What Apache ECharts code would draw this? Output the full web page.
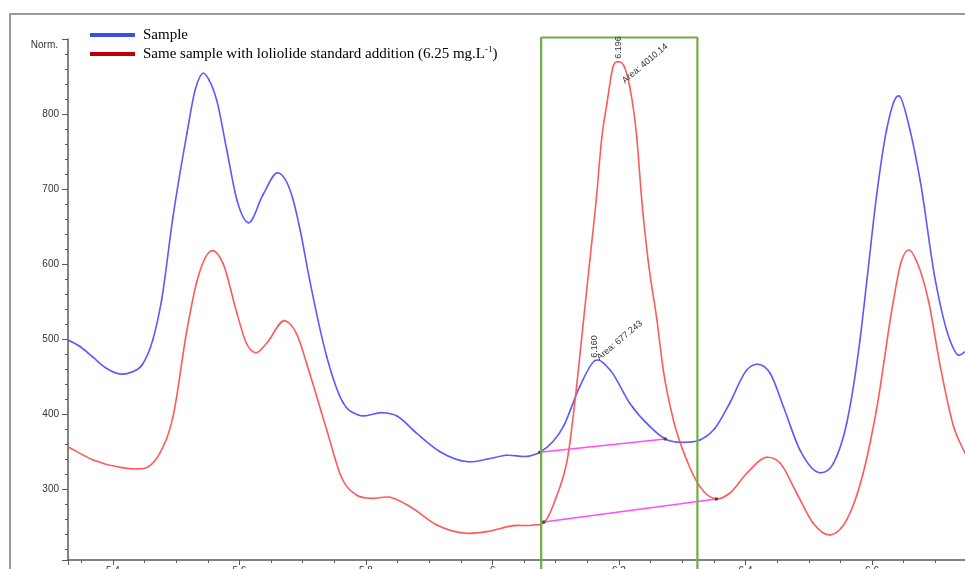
<!DOCTYPE html>
<html>
<head>
<meta charset="utf-8">
<script src="https://cdn.jsdelivr.net/npm/echarts@6/dist/echarts.min.js"></script>
<style>
  html, body { margin: 0; padding: 0; background: #ffffff; }
  #chart { width: 965px; height: 569px; }
</style>
</head>
<body>
<div id="chart"></div>
<script>
// Retention time (min) and normalised detector response for each trace
const sampleTime = [5.329,5.348,5.368,5.389,5.411,5.430,5.446,5.463,5.477,5.495,5.517,5.530,5.543,5.552,5.564,5.580,5.596,5.614,5.637,5.661,5.685,5.696,5.711,5.738,5.764,5.788,5.827,5.849,5.880,5.917,5.962,5.991,6.022,6.059,6.075,6.112,6.138,6.162,6.186,6.217,6.249,6.273,6.307,6.328,6.352,6.375,6.402,6.418,6.439,6.460,6.486,6.518,6.539,6.560,6.581,6.592,6.607,6.623,6.643,6.660,6.676,6.700,6.723,6.736,6.747];
const sampleNorm = [498.7,490,476,461.3,453.3,456,465.3,498.7,552,663.1,774.3,832,854.3,845.3,818.7,752,685.3,655.1,692,721.7,685.3,645.3,578.7,476.4,414.7,398.7,401.7,397.3,374.3,349.7,336.4,339.6,344.9,344,348.9,383.1,436.4,471.1,458.7,414.3,383.1,366.7,362.3,365.3,381.3,414.3,458.7,466.3,454.3,409.7,352,321.7,334.3,387.6,498.7,578.7,689.7,778.7,824,778.7,712,578.7,498.7,478.7,483];

const spikedTime = [5.329,5.369,5.411,5.437,5.456,5.474,5.495,5.517,5.532,5.556,5.574,5.596,5.611,5.626,5.643,5.672,5.690,5.711,5.738,5.762,5.785,5.806,5.838,5.870,5.912,5.959,5.991,6.033,6.065,6.083,6.101,6.120,6.133,6.144,6.154,6.164,6.173,6.181,6.191,6.199,6.208,6.217,6.228,6.236,6.246,6.260,6.270,6.286,6.307,6.328,6.354,6.375,6.402,6.434,6.455,6.481,6.507,6.534,6.560,6.586,6.607,6.634,6.646,6.659,6.671,6.689,6.708,6.729,6.747];
const spikedNorm = [356.4,338.7,328.9,326.7,329.7,347.6,396.4,512,574.3,617.7,600.9,534.3,494.3,481.7,494.3,524.4,507.6,454.3,378.7,314.3,292,287.6,288.9,276.4,252,240.9,243.1,251.1,252,256.4,289.7,347.6,436.4,525.3,605.3,685.3,769.7,814.3,864,869.7,864,836.4,769.7,685.3,605.3,525.3,458.7,392,338.7,303.1,286.7,294.3,320.9,342.3,334.3,294.3,254.3,238.7,258.7,320.9,405.3,552,602.7,618.7,602.7,552,463.1,383.1,347.6];

// Integration baselines drawn under the loliolide peak
const sampleBaseTime = [6.075, 6.273];
const sampleBaseNorm = [348.9, 366.7];
const spikedBaseTime = [6.081, 6.354];
const spikedBaseNorm = [256.0, 286.7];

// Retention window highlighted around the loliolide peak
const windowTime = [6.077, 6.324];
const windowNorm = [190, 902];

// Peak annotations (retention time and area reported by the integrator)
const peakRetention = ['6.160', '6.196'];
const peakArea = ['677.243', '4010.14'];

const sampleName = 'Sample';
const spikedName = 'Same sample with loliolide standard addition (6.25 mg.L-1)';

const zip = (xs, ys) => xs.map((x, i) => [x, ys[i]]);

// Hermite slopes for a trace y(t): weighted three-point derivative
function slopes(xs, ys) {
  const n = xs.length, m = new Array(n);
  for (let i = 0; i < n; i++) {
    if (i === 0) m[i] = (ys[1] - ys[0]) / (xs[1] - xs[0]);
    else if (i === n - 1) m[i] = (ys[n - 1] - ys[n - 2]) / (xs[n - 1] - xs[n - 2]);
    else {
      const h0 = xs[i] - xs[i - 1], h1 = xs[i + 1] - xs[i];
      const d0 = (ys[i] - ys[i - 1]) / h0, d1 = (ys[i + 1] - ys[i]) / h1;
      m[i] = (h0 * d1 + h1 * d0) / (h0 + h1);
    }
  }
  return m;
}

// Custom series: each data item draws the cubic segment to the next sample
function traceSeries(name, xs, ys, color) {
  const m = slopes(xs, ys);
  return {
    name, type: 'custom', z: 3, silent: true,
    data: zip(xs, ys),
    encode: { x: 0, y: 1 },
    itemStyle: { color },
    renderItem(params, api) {
      const i = params.dataIndex;
      if (i >= xs.length - 1) return null;
      const h = xs[i + 1] - xs[i];
      const p0 = api.coord([xs[i], ys[i]]);
      const c1 = api.coord([xs[i] + h / 3, ys[i] + m[i] * h / 3]);
      const c2 = api.coord([xs[i + 1] - h / 3, ys[i + 1] - m[i + 1] * h / 3]);
      const p1 = api.coord([xs[i + 1], ys[i + 1]]);
      return {
        type: 'bezierCurve',
        shape: { x1: p0[0], y1: p0[1], x2: p1[0], y2: p1[1], cpx1: c1[0], cpy1: c1[1], cpx2: c2[0], cpy2: c2[1] },
        style: { stroke: color, fill: null, lineWidth: 1.6, lineCap: 'round' }
      };
    }
  };
}

const axisGray = '#5a5a5a';
const tickFont = 'Liberation Sans';

const chart = echarts.init(document.getElementById('chart'), null, { renderer: 'canvas' });

chart.setOption({
  animation: false,
  backgroundColor: '#ffffff',
  grid: { left: 68, right: 0, top: 39, bottom: 9, containLabel: false, outerBoundsMode: 'none' },
  legend: {
    orient: 'vertical',
    left: 90,
    top: 26.5,
    padding: 0,
    itemWidth: 45,
    itemHeight: 4,
    itemGap: 2,
    icon: 'rect',
    selectedMode: false,
    data: [
      { name: sampleName, itemStyle: { color: '#3b4fe0' } },
      { name: spikedName, itemStyle: { color: '#c00000' } }
    ],
    formatter: name => name === spikedName
      ? 'Same sample with loliolide standard addition (6.25 mg.L{sup|-1})'
      : name,
    textStyle: {
      fontFamily: 'Liberation Serif',
      fontSize: 15,
      color: '#000000',
      lineHeight: 17,
      padding: [0, 0, 0, 3],
      rich: {
        sup: { fontFamily: 'Liberation Serif', fontSize: 9, color: '#000000', verticalAlign: 'top' }
      }
    }
  },
  xAxis: {
    type: 'value',
    min: 5.329,
    max: 6.747,
    minInterval: 0.2,
    maxInterval: 0.2,
    axisLine: { onZero: false, lineStyle: { color: axisGray, width: 1.5 } },
    axisTick: { length: 5, lineStyle: { color: axisGray } },
    minorTick: { show: true, splitNumber: 4, length: 3, lineStyle: { color: axisGray } },
    splitLine: { show: false },
    axisLabel: {
      showMinLabel: false, showMaxLabel: false,
      fontFamily: tickFont, fontSize: 10, color: '#333333', margin: 6
    }
  },
  yAxis: {
    type: 'value',
    min: 205.3,
    max: 900,
    minInterval: 100,
    maxInterval: 100,
    axisLine: { show: true, lineStyle: { color: axisGray, width: 1.5 } },
    axisTick: { show: true, length: 6, lineStyle: { color: axisGray } },
    minorTick: { show: true, splitNumber: 5, length: 3, lineStyle: { color: axisGray } },
    splitLine: { show: false },
    axisLabel: {
      showMinLabel: false, showMaxLabel: false,
      fontFamily: tickFont, fontSize: 10, color: '#333333', margin: 9
    }
  },
  series: [
    traceSeries(sampleName, sampleTime, sampleNorm, '#5a5aff'),
    traceSeries(spikedName, spikedTime, spikedNorm, '#ff5a5a'),
    {
      name: 'sampleBaseline', type: 'line', data: zip(sampleBaseTime, sampleBaseNorm),
      symbol: 'rect', symbolSize: 3, showSymbol: true, z: 4, silent: true,
      lineStyle: { color: '#ff4dff', width: 1.4 }, itemStyle: { color: '#444444' }
    },
    {
      name: 'spikedBaseline', type: 'line', data: zip(spikedBaseTime, spikedBaseNorm),
      symbol: 'rect', symbolSize: 3, showSymbol: true, z: 4, silent: true,
      lineStyle: { color: '#ff4dff', width: 1.4 }, itemStyle: { color: '#444444' }
    },
    {
      name: 'window', type: 'line', clip: false, silent: true, z: 5,
      data: [
        [windowTime[0], windowNorm[0]],
        [windowTime[0], windowNorm[1]],
        [windowTime[1], windowNorm[1]],
        [windowTime[1], windowNorm[0]]
      ],
      showSymbol: false,
      lineStyle: { color: '#70ad47', width: 2.2 }
    }
  ]
});

// Peak annotations anchored on each trace's apex inside the window
function apex(times, values) {
  let best = -1;
  times.forEach((t, i) => {
    if (t >= windowTime[0] && t <= windowTime[1] && (best < 0 || values[i] > values[best])) best = i;
  });
  return chart.convertToPixel({ gridIndex: 0 }, [times[best], values[best]]);
}

const apexes = [apex(sampleTime, sampleNorm), apex(spikedTime, spikedNorm)];
const areaOffsets = [[3, -2], [5, 20]];
const labelFont = '9px "Liberation Sans"';

const graphics = [
  {
    type: 'rect', silent: true, z: 0,
    shape: { x: 10, y: 14, width: 1000, height: 600 },
    style: { fill: 'none', stroke: '#7a7a7a', lineWidth: 1.5 }
  },
  {
    type: 'text', silent: true,
    x: 58, y: 45,
    style: { text: 'Norm.', font: '10px "Liberation Sans"', fill: '#333333', align: 'right', verticalAlign: 'middle' }
  }
];

apexes.forEach((p, i) => {
  graphics.push({
    type: 'text', silent: true, z: 10,
    x: p[0], y: p[1] - 3,
    rotation: Math.PI / 2,
    style: { text: peakRetention[i], font: labelFont, fill: '#333333', align: 'left', verticalAlign: 'middle' }
  });
  graphics.push({
    type: 'text', silent: true, z: 10,
    x: p[0] + areaOffsets[i][0], y: p[1] + areaOffsets[i][1],
    rotation: 40 * Math.PI / 180,
    style: { text: 'Area: ' + peakArea[i], font: labelFont, fill: '#333333', align: 'left', verticalAlign: 'middle' }
  });
});

chart.setOption({ graphic: graphics });
</script>
</body>
</html>
